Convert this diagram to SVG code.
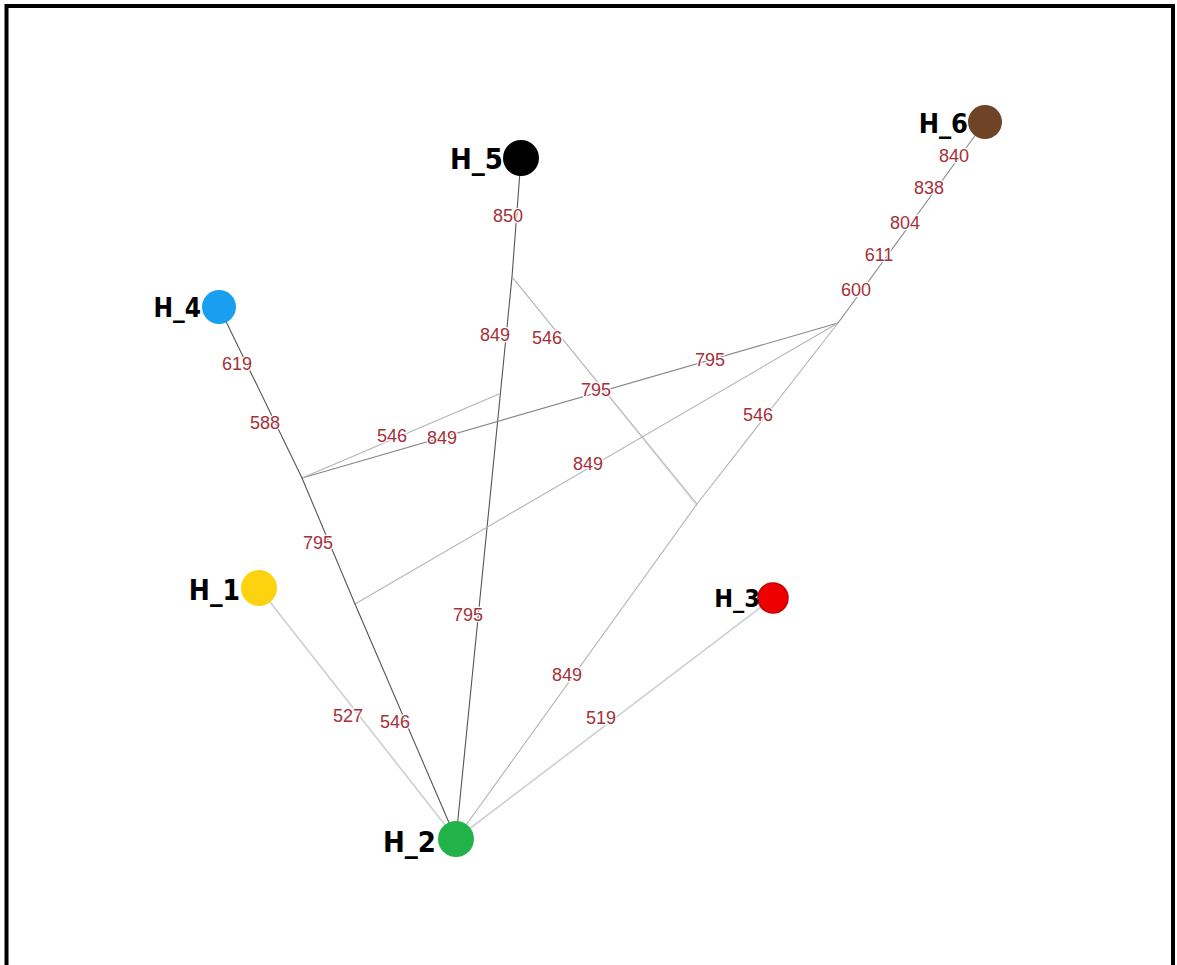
<svg xmlns="http://www.w3.org/2000/svg" width="1177" height="965" viewBox="0 0 1177 965">
  <style>
    .edge { fill: none; stroke-width: 1.1; stroke-linecap: round; }
    .dark { stroke: #555; }
    .mid { stroke: #888; }
    .light { stroke: #b4b4b4; }
    .pale { stroke: #cfcfcf; stroke-width: 1.6; }
    .w { font-family: "Liberation Sans", Arial, sans-serif; font-size: 18px; fill: #a5303a; text-anchor: middle; stroke: #fff; stroke-width: 2.5; paint-order: stroke; }
    .name { font-family: "DejaVu Sans Condensed", "DejaVu Sans", sans-serif; font-weight: bold; fill: #000; text-anchor: end; }
  </style>
  <rect x="0" y="0" width="1177" height="965" fill="#fff"/>
  <path d="M6.5,965 V6 H1173 V965" fill="none" stroke="#000" stroke-width="4"/>

  <g id="connectors">
    <!-- H_5 to median vertex -->
    <line class="edge dark" x1="521" y1="158" x2="512" y2="277"/>
    <line class="edge dark" x1="512" y1="277" x2="456" y2="839"/>
    <line class="edge light" x1="512" y1="277" x2="697" y2="504"/>
    <line class="edge light" x1="514" y1="279" x2="697" y2="506" opacity="0.5"/>
    <!-- H_6 chain -->
    <line class="edge mid" x1="985" y1="122" x2="838" y2="323"/>
    <line class="edge mid" x1="838" y1="323" x2="302" y2="478"/>
    <line class="edge light" x1="302" y1="478" x2="499" y2="394"/>
    <line class="edge light" x1="838" y1="323" x2="355" y2="604"/>
    <polyline class="edge light" points="838,323 697,504 456,839"/>
    <!-- H_4 path down to H_2 -->
    <polyline class="edge dark" points="219,307 302,478 355,604 456,839"/>
    <line class="edge pale" x1="259" y1="588" x2="456" y2="839"/>
    <line class="edge pale" x1="773" y1="598" x2="456" y2="839"/>
  </g>

  <g id="edge-labels">
    <text class="w" x="508" y="222">850</text>
    <text class="w" x="495" y="341">849</text>
    <text class="w" x="547" y="344">546</text>
    <text class="w" x="596" y="396">795</text>
    <text class="w" x="710" y="366">795</text>
    <text class="w" x="758" y="421">546</text>
    <text class="w" x="392" y="442">546</text>
    <text class="w" x="442" y="444">849</text>
    <text class="w" x="588" y="470">849</text>
    <text class="w" x="954" y="162">840</text>
    <text class="w" x="929" y="194">838</text>
    <text class="w" x="905" y="229">804</text>
    <text class="w" x="879" y="261">611</text>
    <text class="w" x="856" y="296">600</text>
    <text class="w" x="237" y="370">619</text>
    <text class="w" x="265" y="429">588</text>
    <text class="w" x="318" y="549">795</text>
    <text class="w" x="468" y="621">795</text>
    <text class="w" x="567" y="681">849</text>
    <text class="w" x="348" y="722">527</text>
    <text class="w" x="395" y="728">546</text>
    <text class="w" x="601" y="724">519</text>
  </g>

  <g id="H_5">
    <circle cx="521" cy="158" r="18" fill="#000"/>
    <text class="name" x="503" y="169" font-size="29">H_5</text>
  </g>
  <g id="H_6">
    <circle cx="985" cy="122" r="17" fill="#6f4426"/>
    <text class="name" x="968" y="133" font-size="27">H_6</text>
  </g>
  <g id="H_4">
    <circle cx="219" cy="307" r="17" fill="#1a9ff0"/>
    <text class="name" x="201" y="317" font-size="26" font-weight="normal">H_4</text>
  </g>
  <g id="H_1">
    <circle cx="259" cy="588" r="18" fill="#fdd30f"/>
    <text class="name" x="240" y="600" font-size="28">H_1</text>
  </g>
  <g id="H_2">
    <circle cx="456" cy="839" r="18" fill="#21b249"/>
    <text class="name" x="436" y="852" font-size="29">H_2</text>
  </g>
  <g id="H_3">
    <circle cx="773" cy="598" r="15" fill="#ee0000" stroke="#c40000" stroke-width="1.5"/>
    <text class="name" x="760" y="607" font-size="25" font-weight="normal">H_3</text>
  </g>
</svg>
